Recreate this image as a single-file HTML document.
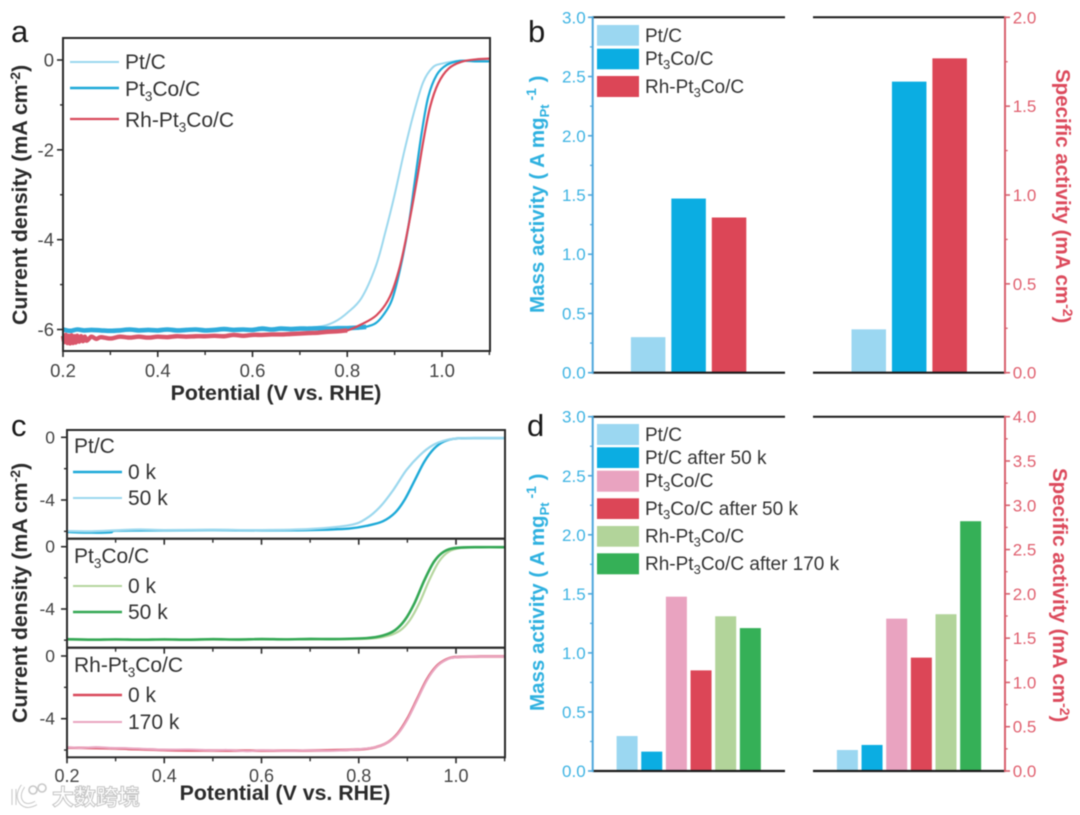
<!DOCTYPE html>
<html>
<head>
<meta charset="utf-8">
<style>
html,body{margin:0;padding:0;background:#fff;width:1080px;height:815px;overflow:hidden}
svg{display:block;filter:blur(0.45px);font-family:"Liberation Sans","Noto Sans CJK SC",sans-serif}
.ttl{font-weight:bold;font-size:21.3px;fill:#2b2b2b}
.leg{font-size:21px;fill:#333}
.leg2{font-size:19px;fill:#333}
.let{font-size:31px;fill:#1a1a1a}
.blue{font-weight:bold;font-size:20.5px;fill:#2fb1e0}
.red{font-weight:bold;font-size:20.5px;fill:#dc4a5c}
</style>
</head>
<body>
<svg id="fig" xmlns="http://www.w3.org/2000/svg" width="1080" height="815" viewBox="0 0 1080 815">
<rect width="1080" height="815" fill="#fff"/>
<text class="let" x="11" y="42">a</text>
<text class="let" x="528" y="42">b</text>
<text class="let" x="11" y="436">c</text>
<text class="let" x="527" y="436">d</text>

<text class="ttl" x="276" y="400" text-anchor="middle">Potential (V vs. RHE)</text>
<text class="ttl" transform="translate(27,325) rotate(-90)">Current density (mA cm<tspan dy="-7" font-size="14">-2</tspan><tspan dy="7">)</tspan></text>
<text class="ttl" x="285" y="800" text-anchor="middle">Potential (V vs. RHE)</text>
<text class="ttl" transform="translate(27,723) rotate(-90)">Current density (mA cm<tspan dy="-7" font-size="14">-2</tspan><tspan dy="7">)</tspan></text>

<text class="blue" transform="translate(544,313) rotate(-90)">Mass activity ( A mg<tspan dy="5" font-size="13">Pt</tspan><tspan dy="-13" font-size="14"> -1</tspan><tspan dy="8"> )</tspan></text>
<text class="red" transform="translate(1056,69) rotate(90)">Specific activity (mA cm<tspan dy="-7" font-size="14">-2</tspan><tspan dy="7">)</tspan></text>
<text class="blue" transform="translate(544,711) rotate(-90)">Mass activity ( A mg<tspan dy="5" font-size="13">Pt</tspan><tspan dy="-13" font-size="14"> -1</tspan><tspan dy="8"> )</tspan></text>
<text class="red" transform="translate(1053,468) rotate(90)">Specific activity (mA cm<tspan dy="-7" font-size="14">-2</tspan><tspan dy="7">)</tspan></text>

<g id="marks"></g>

<g>
<line x1="70" x2="119" y1="62" y2="62" stroke="#9cd8ee" stroke-width="2"/>
<text class="leg" x="125" y="69">Pt/C</text>
<line x1="70" x2="119" y1="88" y2="88" stroke="#1eaad8" stroke-width="2.4"/>
<text class="leg" x="125" y="96">Pt<tspan dy="5" font-size="13.5">3</tspan><tspan dy="-5">Co/C</tspan></text>
<line x1="70" x2="119" y1="119" y2="119" stroke="#d94a5c" stroke-width="2.2"/>
<text class="leg" x="125" y="127">Rh-Pt<tspan dy="5" font-size="13.5">3</tspan><tspan dy="-5">Co/C</tspan></text>
</g>

<g>
<text class="leg" x="74" y="453">Pt/C</text>
<line x1="73" x2="122" y1="472" y2="472" stroke="#1eaad8" stroke-width="2.4"/>
<text class="leg" x="128" y="479">0 k</text>
<line x1="73" x2="122" y1="498" y2="498" stroke="#9cd8ee" stroke-width="2"/>
<text class="leg" x="128" y="505">50 k</text>
<text class="leg" x="74" y="563">Pt<tspan dy="5" font-size="13.5">3</tspan><tspan dy="-5">Co/C</tspan></text>
<line x1="73" x2="122" y1="586" y2="586" stroke="#b5d69e" stroke-width="2"/>
<text class="leg" x="128" y="593">0 k</text>
<line x1="73" x2="122" y1="612" y2="612" stroke="#35a855" stroke-width="2.4"/>
<text class="leg" x="128" y="619">50 k</text>
<text class="leg" x="74" y="672">Rh-Pt<tspan dy="5" font-size="13.5">3</tspan><tspan dy="-5">Co/C</tspan></text>
<line x1="73" x2="122" y1="695" y2="695" stroke="#d94a5c" stroke-width="2.4"/>
<text class="leg" x="128" y="702">0 k</text>
<line x1="73" x2="122" y1="722" y2="722" stroke="#e9a5c0" stroke-width="2"/>
<text class="leg" x="128" y="729">170 k</text>
</g>

<g>
<rect x="597" y="25" width="42" height="20.7" fill="#9bd7f1"/>
<text class="leg2" x="645" y="42">Pt/C</text>
<rect x="597" y="48.7" width="42" height="20.6" fill="#0bade2"/>
<text class="leg2" x="645" y="65">Pt<tspan dy="4" font-size="13">3</tspan><tspan dy="-4">Co/C</tspan></text>
<rect x="597" y="76" width="42" height="21" fill="#dc4657"/>
<text class="leg2" x="645" y="93">Rh-Pt<tspan dy="4" font-size="13">3</tspan><tspan dy="-4">Co/C</tspan></text>
</g>

<g>
<rect x="597" y="424" width="42" height="21" fill="#9bd7f1"/>
<text class="leg2" x="645" y="441">Pt/C</text>
<rect x="597" y="447.3" width="42" height="20.7" fill="#0bade2"/>
<text class="leg2" x="645" y="464">Pt/C after 50 k</text>
<rect x="597" y="470.7" width="42" height="21" fill="#e9a3c0"/>
<text class="leg2" x="645" y="487">Pt<tspan dy="4" font-size="13">3</tspan><tspan dy="-4">Co/C</tspan></text>
<rect x="597" y="498.3" width="42" height="20.7" fill="#dc4657"/>
<text class="leg2" x="645" y="515">Pt<tspan dy="4" font-size="13">3</tspan><tspan dy="-4">Co/C after 50 k</tspan></text>
<rect x="597" y="526" width="42" height="20.7" fill="#b2d49a"/>
<text class="leg2" x="645" y="542.5">Rh-Pt<tspan dy="4" font-size="13">3</tspan><tspan dy="-4">Co/C</tspan></text>
<rect x="597" y="553.3" width="42" height="21" fill="#35b057"/>
<text class="leg2" x="645" y="570">Rh-Pt<tspan dy="4" font-size="13">3</tspan><tspan dy="-4">Co/C after 170 k</tspan></text>
</g>

<g>
<path d="M14 789 L14 805 M23 786 Q16 796 22 803 Q27 808 36 803" fill="none" stroke="#c8c8c8" stroke-width="5"/>
<path d="M14 789 L14 805 M23 786 Q16 796 22 803 Q27 808 36 803" fill="none" stroke="#fff" stroke-width="3"/>
<circle cx="33" cy="790" r="4" fill="#fff" stroke="#c8c8c8" stroke-width="1.6"/>
<circle cx="42" cy="788" r="4" fill="#fff" stroke="#c8c8c8" stroke-width="1.6"/>
<text x="52" y="805" font-size="22" font-weight="bold" fill="#fff" stroke="#c4c4c4" stroke-width="1" style="font-family:'Noto Sans CJK SC',sans-serif">大数跨境</text>
</g>
</svg>

<script>
// ---------- Panel a values ----------
var aPtX = [0.2,0.25,0.3,0.35,0.4,0.45,0.5,0.55,0.6,0.65,0.7,0.75,0.775,0.8,0.83,0.86,0.88,0.9,0.92,0.94,0.96,0.98,1.0,1.04,1.07,1.1];
var aPtY = [-6.0,-6.02,-6.03,-6.03,-6.03,-6.03,-6.02,-6.02,-6.02,-6.01,-6.0,-5.92,-5.82,-5.63,-5.3,-4.6,-3.85,-3.0,-2.05,-1.2,-0.5,-0.17,-0.08,-0.015,-0.02,-0.03];
var aCoX = [0.2,0.215,0.23,0.245,0.26,0.28,0.3,0.32,0.34,0.36,0.38,0.4,0.42,0.44,0.46,0.48,0.5,0.52,0.54,0.56,0.58,0.6,0.62,0.64,0.66,0.68,0.7,0.72,0.74,0.76,0.78,0.8,0.82,0.84,0.86,0.876,0.894,0.911,0.929,0.943,0.957,0.971,0.989,1.01,1.038,1.07,1.1];
var aCoY = [-6.0,-6.03,-6.0,-6.02,-6.01,-6.02,-6.03,-6.02,-6.0,-6.02,-6.01,-6.02,-6.0,-6.02,-6.01,-6.0,-6.02,-6.01,-5.99,-6.01,-6.0,-6.01,-5.98,-6.0,-5.98,-5.99,-5.98,-5.98,-5.97,-5.98,-5.97,-5.97,-5.96,-5.94,-5.86,-5.68,-5.35,-4.68,-3.71,-2.67,-1.63,-0.82,-0.33,-0.11,-0.02,-0.03,-0.03];
var aRhX = [0.2,0.203,0.206,0.209,0.212,0.215,0.218,0.221,0.224,0.227,0.23,0.234,0.238,0.242,0.246,0.25,0.26,0.27,0.28,0.3,0.32,0.34,0.36,0.38,0.4,0.42,0.44,0.46,0.48,0.5,0.52,0.54,0.56,0.58,0.6,0.62,0.64,0.66,0.68,0.7,0.72,0.74,0.76,0.78,0.8,0.827,0.862,0.89,0.911,0.929,0.947,0.961,0.975,0.992,1.014,1.041,1.073,1.1];
var aRhY = [-6.14,-6.28,-6.12,-6.3,-6.14,-6.31,-6.13,-6.3,-6.15,-6.29,-6.14,-6.27,-6.15,-6.26,-6.16,-6.25,-6.16,-6.21,-6.17,-6.2,-6.16,-6.18,-6.16,-6.18,-6.16,-6.17,-6.15,-6.16,-6.15,-6.15,-6.14,-6.15,-6.12,-6.14,-6.12,-6.12,-6.11,-6.11,-6.1,-6.09,-6.08,-6.07,-6.05,-6.04,-6.02,-5.9,-5.68,-5.27,-4.6,-3.71,-2.67,-1.78,-1.04,-0.52,-0.19,-0.04,0.015,0.03];
var aXTicks = ["0.2","0.4","0.6","0.8","1.0"];
var aYTicks = ["0","-2","-4","-6"];

// ---------- Panel c values ----------
var cPt0X = [0.2,0.25,0.29,0.3,0.4,0.5,0.6,0.7,0.78,0.82,0.85,0.875,0.895,0.915,0.935,0.955,0.975,1.0,1.05,1.1];
var cPt0Y = [-6.04,-6.08,-6.06,-5.96,-5.94,-5.92,-5.94,-5.92,-5.82,-5.62,-5.35,-4.8,-3.95,-2.75,-1.55,-0.72,-0.27,-0.08,-0.05,-0.05];
var cPt50X = [0.2,0.25,0.3,0.35,0.4,0.5,0.6,0.7,0.782,0.816,0.844,0.871,0.898,0.926,0.953,0.981,1.008,1.05,1.1];
var cPt50Y = [-5.98,-6.0,-5.94,-5.88,-5.92,-5.9,-5.92,-5.85,-5.6,-5.17,-4.43,-3.36,-2.09,-1.13,-0.49,-0.17,-0.06,-0.05,-0.05];
var cCo0X = [0.2,0.3,0.4,0.5,0.6,0.7,0.816,0.86,0.885,0.905,0.925,0.945,0.965,0.985,1.01,1.05,1.1];
var cCo0Y = [-5.96,-5.97,-5.97,-5.96,-5.95,-5.95,-5.91,-5.72,-5.38,-4.72,-3.6,-2.15,-0.95,-0.32,-0.08,-0.03,-0.03];
var cCo50X = [0.2,0.25,0.3,0.35,0.4,0.45,0.5,0.55,0.6,0.65,0.7,0.75,0.816,0.85,0.875,0.895,0.915,0.935,0.955,0.975,1.0,1.05,1.1];
var cCo50Y = [-5.94,-5.97,-5.95,-5.97,-5.95,-5.97,-5.94,-5.96,-5.93,-5.95,-5.92,-5.93,-5.87,-5.7,-5.35,-4.7,-3.6,-2.15,-0.95,-0.32,-0.08,-0.03,-0.03];
var cRh0X = [0.2,0.3,0.4,0.5,0.6,0.7,0.8,0.837,0.86,0.88,0.9,0.92,0.94,0.96,0.98,1.0,1.05,1.1];
var cRh0Y = [-5.85,-5.9,-6.0,-6.03,-6.04,-6.03,-5.96,-5.8,-5.5,-4.95,-4.0,-2.75,-1.5,-0.65,-0.22,-0.07,-0.03,-0.03];
var cRh170X = [0.2,0.23,0.26,0.29,0.32,0.36,0.4,0.45,0.5,0.53,0.57,0.6,0.65,0.7,0.75,0.8,0.837,0.86,0.88,0.9,0.92,0.94,0.96,0.98,1.0,1.05,1.1];
var cRh170Y = [-5.83,-5.86,-5.82,-5.87,-5.88,-5.93,-5.98,-5.97,-6.02,-6.0,-6.07,-6.02,-6.05,-6.03,-6.04,-5.95,-5.8,-5.5,-4.98,-4.05,-2.8,-1.55,-0.68,-0.24,-0.08,-0.03,-0.03];
var cXTicks = ["0.2","0.4","0.6","0.8","1.0"];
var cYTicks = ["0","-4"];

// ---------- Panel b values ----------
var bColors = ["#9bd7f1","#0bade2","#dc4657"];
var bMass = [0.30,1.47,1.31];
var bSpecific = [0.244,1.638,1.769];
var bLeftTicks = ["0.0","0.5","1.0","1.5","2.0","2.5","3.0"];
var bRightTicks = ["0.0","0.5","1.0","1.5","2.0"];

// ---------- Panel d values ----------
var dColors = ["#9bd7f1","#0bade2","#e9a3c0","#dc4657","#b2d49a","#35b057"];
var dMass = [0.296,0.164,1.476,0.852,1.31,1.21];
var dSpecific = [0.237,0.294,1.72,1.28,1.77,2.82];
var dLeftTicks = ["0.0","0.5","1.0","1.5","2.0","2.5","3.0"];
var dRightTicks = ["0.0","0.5","1.0","1.5","2.0","2.5","3.0","3.5","4.0"];

var NS = "http://www.w3.org/2000/svg";
var root = document.getElementById("marks");

function make(tag, attrs) {
  var e = document.createElementNS(NS, tag);
  for (var k in attrs) e.setAttribute(k, attrs[k]);
  root.appendChild(e);
  return e;
}
function linear(d0, d1, r0, r1) {
  return function (v) { return r0 + (v - d0) * (r1 - r0) / (d1 - d0); };
}
function drawLine(x1, y1, x2, y2, color, w, name) {
  var e = make("line", {x1: x1, y1: y1, x2: x2, y2: y2, stroke: color, "stroke-width": w});
  
  
  return e;
}
function drawLabel(x, y, s, anchor, size, color, name) {
  var e = make("text", {x: x, y: y, "text-anchor": anchor, "font-size": size, fill: color});
  e.textContent = s;
  
  
  return e;
}
function drawCurve(xs, ys, sx, sy, color, w, name) {
  var p = xs.map(function (x, i) { return [sx(x), sy(ys[i])]; });
  var d = "M" + p[0][0].toFixed(2) + " " + p[0][1].toFixed(2);
  for (var i = 0; i < p.length - 1; i++) {
    var a = p[Math.max(i - 1, 0)], b = p[i], c = p[i + 1], f = p[Math.min(i + 2, p.length - 1)];
    d += " C" + (b[0] + (c[0] - a[0]) / 6).toFixed(2) + " " + (b[1] + (c[1] - a[1]) / 6).toFixed(2) +
         " " + (c[0] - (f[0] - b[0]) / 6).toFixed(2) + " " + (c[1] - (f[1] - b[1]) / 6).toFixed(2) +
         " " + c[0].toFixed(2) + " " + c[1].toFixed(2);
  }
  var e = make("path", {d: d, fill: "none", stroke: color, "stroke-width": w, "stroke-linejoin": "round"});
  
  
}
// thick noisy plateau of a curve: only the points before the given potential
function drawBand(xs, ys, limit, sx, sy, color, w, name) {
  var keepX = xs.filter(function (x) { return x <= limit; });
  drawCurve(keepX, ys.slice(0, keepX.length), sx, sy, color, w, name);
}

// ---------- Panel a ----------
var ax = linear(0.2, 1.0, 63, 442), ay = linear(0, -6, 60, 329.5);
drawCurve(aPtX, aPtY, ax, ay, "#9cd8ee", 2, "curve-pt-c");
drawCurve(aCoX, aCoY, ax, ay, "#1eaad8", 2.2, "curve-pt3co-c");
drawBand(aCoX, aCoY, 0.84, ax, ay, "#2fabdb", 4.6, "noise-band-pt3co-c");
drawCurve(aRhX, aRhY, ax, ay, "#d94a5c", 2.2, "curve-rh-pt3co-c");
drawBand(aRhX, aRhY, 0.8, ax, ay, "#d9566a", 4.4, "noise-band-rh-pt3co-c");
var f = make("rect", {x: 63, y: 38, width: 427, height: 313, fill: "none", stroke: "#2a2a2a", "stroke-width": 2});


aXTicks.forEach(function (t) {
  var v = parseFloat(t), x = ax(v);
  drawLine(x, 351, x, 357, "#2a2a2a", 1.6, "x-tick");
  drawLabel(x, 377, t, "middle", 18.5, "#444", "x-tick-label");
  if (ax(v + 0.1) <= 491) drawLine(ax(v + 0.1), 351, ax(v + 0.1), 355, "#2a2a2a", 1.4, "x-minor-tick");
});
aYTicks.forEach(function (t) {
  var v = parseFloat(t), y = ay(v);
  drawLine(57, y, 63, y, "#2a2a2a", 1.6, "y-tick");
  drawLabel(54, y + 6.5, t, "end", 18.5, "#444", "y-tick-label");
  if (v > -6) drawLine(60, ay(v - 1), 63, ay(v - 1), "#2a2a2a", 1.4, "y-minor-tick");
});

// ---------- Panel c ----------
var cx = linear(0.2, 1.0, 67, 456);
function cPanel(top, bottom, zero, minusFour, s1X, s1Y, c1, w1, n1, s2X, s2Y, c2, w2, n2) {
  var sy = linear(0, -4, zero, minusFour);
  drawCurve(s1X, s1Y, cx, sy, c1, w1, n1);
  drawCurve(s2X, s2Y, cx, sy, c2, w2, n2);
  var fr = make("rect", {x: 67, y: top, width: 438, height: bottom - top, fill: "none", stroke: "#2a2a2a", "stroke-width": 2});
  
  
  cXTicks.forEach(function (t) {
    var v = parseFloat(t), x = cx(v);
    drawLine(x, bottom, x, bottom + 6, "#2a2a2a", 1.6, "x-tick");
    if (cx(v + 0.1) <= 506) drawLine(cx(v + 0.1), bottom, cx(v + 0.1), bottom + 4, "#2a2a2a", 1.4, "x-minor-tick");
  });
  cYTicks.forEach(function (t) {
    var v = parseFloat(t), y = sy(v);
    drawLine(61, y, 67, y, "#2a2a2a", 1.6, "y-tick");
    drawLabel(55, y + 6, t, "end", 17.5, "#444", "y-tick-label");
    drawLine(64, sy(v - 2), 67, sy(v - 2), "#2a2a2a", 1.4, "y-minor-tick");
  });
}
cPanel(430, 538.7, 437.3, 500, cPt0X, cPt0Y, "#1eaad8", 2.4, "curve-pt-0k", cPt50X, cPt50Y, "#9cd8ee", 2.2, "curve-pt-50k");
cPanel(538.7, 647.7, 546.7, 609, cCo0X, cCo0Y, "#b5d69e", 2.2, "curve-pt3co-0k", cCo50X, cCo50Y, "#35a855", 2.6, "curve-pt3co-50k");
cPanel(647.7, 757.3, 656, 718.7, cRh0X, cRh0Y, "#d94a5c", 2.6, "curve-rh-0k", cRh170X, cRh170Y, "#e9a5c0", 2.2, "curve-rh-170k");
cXTicks.forEach(function (t) {
  drawLabel(cx(parseFloat(t)), 782, t, "middle", 18, "#444", "x-tick-label");
});

// ---------- Bar panels ----------
function barPanel(top, bottom, leftMax, rightMax, mass, specific, colors, leftStart, rightStart, step, width, leftTicks, rightTicks, prefix) {
  var ly = linear(0, leftMax, bottom, top), ry = linear(0, rightMax, bottom, top);
  mass.forEach(function (v, i) {
    var e = make("rect", {x: leftStart + i * step, y: ly(v), width: width, height: bottom - ly(v), fill: colors[i]});
    
    
  });
  specific.forEach(function (v, i) {
    var e = make("rect", {x: rightStart + i * step, y: ry(v), width: width, height: bottom - ry(v), fill: colors[i]});
    
    
  });
  drawLine(592.7, top, 785, top, "#1a1a1a", 2, "top-axis-left");
  drawLine(813, top, 1005, top, "#1a1a1a", 2, "top-axis-right");
  drawLine(592.7, bottom, 785, bottom, "#1a1a1a", 2.2, "bottom-axis-left");
  drawLine(813, bottom, 1005, bottom, "#1a1a1a", 2.2, "bottom-axis-right");
  drawLine(592.7, top - 1, 592.7, bottom + 1, "#4da7dc", 2, "left-axis");
  drawLine(1005, top - 1, 1005, bottom + 1, "#d8606e", 2, "right-axis");
  leftTicks.forEach(function (t, i) {
    var v = parseFloat(t), y = ly(v);
    drawLine(588, y, 592.7, y, "#4da7dc", 1.6, "left-tick");
    drawLabel(585.7, y + 6, t, "end", 17, "#3fb4e3", "left-tick-label");
    if (i < leftTicks.length - 1) drawLine(590, ly(v + 0.25), 592.7, ly(v + 0.25), "#4da7dc", 1.3, "left-minor-tick");
  });
  rightTicks.forEach(function (t, i) {
    var v = parseFloat(t), y = ry(v);
    drawLine(1005, y, 1010, y, "#d8606e", 1.6, "right-tick");
    drawLabel(1012.7, y + 6, t, "start", 17, "#e0606f", "right-tick-label");
    if (i < rightTicks.length - 1) drawLine(1005, ry(v + 0.25), 1007.7, ry(v + 0.25), "#d8606e", 1.3, "right-minor-tick");
  });
}
barPanel(17.3, 372.7, 3, 2, bMass, bSpecific, bColors, 630.9, 851.5, 40.45, 34.5, bLeftTicks, bRightTicks, "panel-b");
barPanel(416.7, 771, 3, 4, dMass, dSpecific, dColors, 616.6, 836.9, 24.65, 21, dLeftTicks, dRightTicks, "panel-d");
</script>
</body>
</html>
